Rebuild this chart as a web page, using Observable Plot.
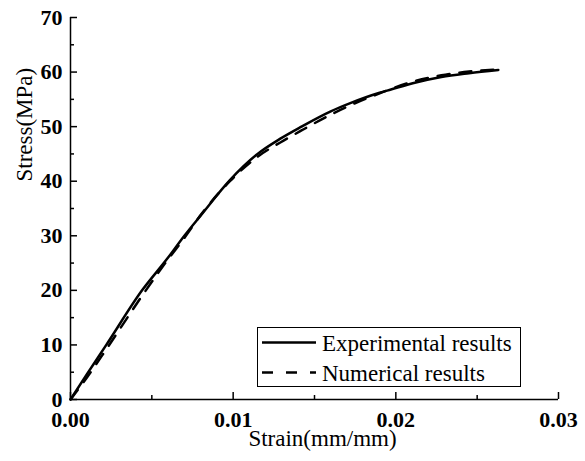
<!DOCTYPE html>
<html>
<head>
<meta charset="utf-8">
<script src="https://cdn.jsdelivr.net/npm/d3@7"></script>
<script src="https://cdn.jsdelivr.net/npm/@observablehq/plot@0.6"></script>
<style>
  text, tspan { font-family: "Liberation Serif" !important; }
</style>
</head>
<body style="margin:0;background:#fff">
<div id="wrap" style="position:relative;width:585px;height:461px"></div>
<script>
// Experimental results (solid)
const expStrain = [0, 0.0010, 0.0022, 0.0044, 0.0060, 0.0070, 0.0080, 0.0098, 0.0115, 0.0129, 0.0142, 0.0160, 0.0172, 0.0190, 0.0197, 0.0211, 0.0228, 0.0245, 0.0263];
const expStress = [0, 4.6, 10.0, 20.0, 26.0, 30.0, 33.7, 40.2, 45.0, 47.8, 50.0, 52.8, 54.3, 56.2, 56.8, 58.0, 59.1, 59.8, 60.4];
// Numerical results (dashed)
const numStrain = [0, 0.0010, 0.0022, 0.0044, 0.0060, 0.0070, 0.0080, 0.0098, 0.0115, 0.0129, 0.0142, 0.0160, 0.0172, 0.0190, 0.0211, 0.0228, 0.0245, 0.0263];
const numStress = [0, 4.0, 9.2, 19.0, 25.7, 29.6, 33.8, 40.0, 44.5, 47.1, 49.3, 52.2, 53.9, 56.1, 58.3, 59.4, 60.1, 60.5];

const xTicks = [0, 0.01, 0.02, 0.03];
const xMinor = [0.005, 0.015, 0.025];
const yTicks = [0, 10, 20, 30, 40, 50, 60, 70];
const yMinor = [5, 15, 25, 35, 45, 55, 65];
const legendLabels = ["Experimental results", "Numerical results"];

const expData = expStrain.map((s, i) => ({strain: s, stress: expStress[i]}));
const numData = numStrain.map((s, i) => ({strain: s, stress: numStress[i]}));

const chart = Plot.plot({
  width: 585,
  height: 461,
  marginLeft: 70,
  marginRight: 27,
  marginTop: 17,
  marginBottom: 62,
  style: "font-family: 'Liberation Serif'; background: #fff; color: #000; overflow: visible;",
  x: {domain: [0, 0.03]},
  y: {domain: [0, 70]},
  marks: [
    Plot.line(expData, {x: "strain", y: "stress", stroke: "#000", strokeWidth: 2.5, curve: "monotone-x"}),
    Plot.line(numData, {x: "strain", y: "stress", stroke: "#000", strokeWidth: 2.5, strokeDasharray: "12,10", curve: "monotone-x"}),
    Plot.ruleX([0], {stroke: "#000", strokeWidth: 1.5}),
    Plot.ruleY([0], {stroke: "#000", strokeWidth: 1.5}),
    Plot.axisX(xTicks, {tickSize: -7, tickFormat: d => d3.format(".2f")(d), tickPadding: 19, fontSize: 22, fontWeight: "bold", strokeWidth: 1.5, label: null}),
    Plot.axisX(xMinor, {tickSize: -4, tickFormat: null, text: null, strokeWidth: 1.5, label: null}),
    Plot.axisY(yTicks, {tickSize: -7, tickPadding: 15, fontSize: 22, fontWeight: "bold", strokeWidth: 1.5, label: null}),
    Plot.axisY(yMinor, {tickSize: -4, text: null, strokeWidth: 1.5, label: null}),
    Plot.text(["Strain(mm/mm)"], {frameAnchor: "bottom", dx: 8, dy: 39, fontSize: 23, lineAnchor: "middle", fill: "#000"}),
    Plot.text(["Stress(MPa)"], {frameAnchor: "left", rotate: -90, dx: -46, dy: -27, fontSize: 23, lineAnchor: "middle", fill: "#000"})
  ]
});

const wrap = document.getElementById("wrap");
wrap.appendChild(chart);
d3.select(chart).selectAll("text")
  .attr("font-family", "Liberation Serif")
  .style("font-family", "'Liberation Serif'");

// legend (overlaid box, lower right of the frame)
const lsvg = d3.select(wrap).append("svg")
  .attr("width", 264).attr("height", 60)
  .attr("style", "position:absolute;left:257px;top:327px;overflow:visible");
lsvg.append("rect").attr("x", 0.5).attr("y", 0.5).attr("width", 263).attr("height", 59)
  .attr("fill", "#fff").attr("stroke", "#000").attr("stroke-width", 1);
const dashes = [null, "11,13"];
legendLabels.forEach((lab, i) => {
  const cy = 15.5 + i * 30;
  lsvg.append("line").attr("x1", 5).attr("x2", 59).attr("y1", cy).attr("y2", cy)
    .attr("stroke", "#000").attr("stroke-width", 2.5).attr("stroke-dasharray", dashes[i]);
  lsvg.append("text").attr("x", 65).attr("y", cy).attr("dy", "0.35em")
    .attr("font-family", "Liberation Serif")
    .style("font-family", "'Liberation Serif'")
    .attr("font-size", 23).text(lab);
});
</script>
</body>
</html>
